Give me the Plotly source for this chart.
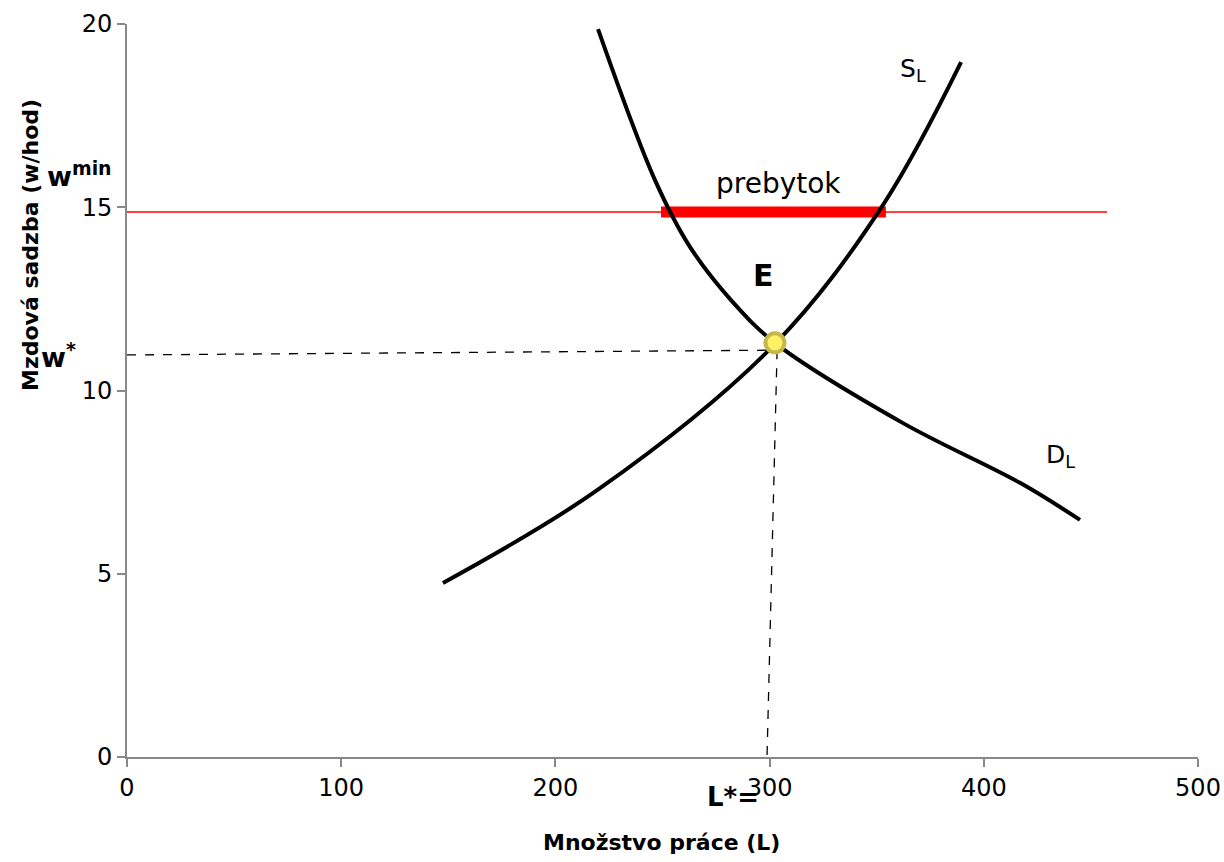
import plotly.graph_objects as go

# Supply of labour (S_L)
supply_x = [147.5, 220.0, 302.5, 352.9, 389.4]
supply_y = [4.75, 7.3, 11.27, 15.06, 18.96]

# Demand for labour (D_L)
demand_x = [219.9, 246.5, 262.8, 283.0, 302.5, 362.3, 416.9, 444.9]
demand_y = [19.86, 15.74, 13.92, 12.4, 11.3, 9.11, 7.48, 6.47]

# minimum wage line and surplus segment
wmin_x = [0, 457.5]
wmin_y = [14.87, 14.87]
surplus_x = [249.3, 354.3]
surplus_y = [14.87, 14.87]

# dashed guides to equilibrium
wstar_x = [0, 300]
wstar_y = [10.97, 11.1]
lstar_x = [303.5, 298.8]
lstar_y = [11.1, 0]

eq_x = [302.5]
eq_y = [11.3]

font_family = "Comic Sans MS, DejaVu Sans, sans-serif"

fig = go.Figure()

fig.add_trace(go.Scatter(x=wmin_x, y=wmin_y, mode="lines",
                         line=dict(color="#FF0000", width=1.5)))
fig.add_trace(go.Scatter(x=surplus_x, y=surplus_y, mode="lines",
                         line=dict(color="#FF0000", width=11)))
fig.add_trace(go.Scatter(x=wstar_x, y=wstar_y, mode="lines",
                         line=dict(color="black", width=1.3, dash="dash")))
fig.add_trace(go.Scatter(x=lstar_x, y=lstar_y, mode="lines",
                         line=dict(color="black", width=1.3, dash="dash")))
fig.add_trace(go.Scatter(x=supply_x, y=supply_y, mode="lines",
                         line=dict(color="black", width=4, shape="spline", smoothing=1.0)))
fig.add_trace(go.Scatter(x=demand_x, y=demand_y, mode="lines",
                         line=dict(color="black", width=4, shape="spline", smoothing=1.0)))
fig.add_trace(go.Scatter(x=eq_x, y=eq_y, mode="markers",
                         marker=dict(size=19, color="#FFF066",
                                     line=dict(color="#C4B84A", width=4))))

def note(x, y, text, size, ref="data", **kw):
    d = dict(x=x, y=y, text=text, showarrow=False, font=dict(size=size),
             xanchor="center", yanchor="middle")
    if ref == "paper":
        d.update(xref="paper", yref="paper")
    d.update(kw)
    return d

annotations = [
    note(367, 18.75, "S<sub>L</sub>", 25),
    note(436, 8.2, "D<sub>L</sub>", 25),
    note(304, 15.65, "prebytok", 28),
    note(297, 13.15, "<b>E</b>", 30),
    note(-0.044, 0.795, "<b>w<sup>min</sup></b>", 27, ref="paper"),
    note(-0.064, 0.548, "<b>w<sup>*</sup></b>", 27, ref="paper"),
    note(0.566, -0.055, "<b>L*=</b>", 26, ref="paper"),
    note(0.4995, -0.117, "<b>Množstvo práce (L)</b>", 22, ref="paper"),
    note(-0.09, 0.698, "<b>Mzdová sadzba (w/hod)</b>", 22, ref="paper", textangle=-90),
]

fig.update_layout(
    width=1224, height=862,
    margin=dict(l=127, r=26, t=24, b=105),
    plot_bgcolor="white", paper_bgcolor="white",
    showlegend=False,
    font=dict(family=font_family, color="black", size=20),
    annotations=annotations,
)
fig.update_xaxes(range=[0, 500], dtick=100, showgrid=False, zeroline=False,
                 showline=True, linecolor="#888888", linewidth=2, automargin=False,
                 ticks="outside", tickcolor="#888888", ticklen=8, tickwidth=2,
                 tickfont=dict(size=24))
fig.update_yaxes(range=[0, 20], dtick=5, showgrid=False, zeroline=False,
                 showline=True, linecolor="#888888", linewidth=2, automargin=False,
                 ticks="outside", tickcolor="#888888", ticklen=8, tickwidth=2,
                 tickfont=dict(size=24))

# drop the page's default body margin so the figure sits at the window's corner
fig.write_html("out.html", config={"displayModeBar": False},
               post_script="document.body.style.margin='0';")
